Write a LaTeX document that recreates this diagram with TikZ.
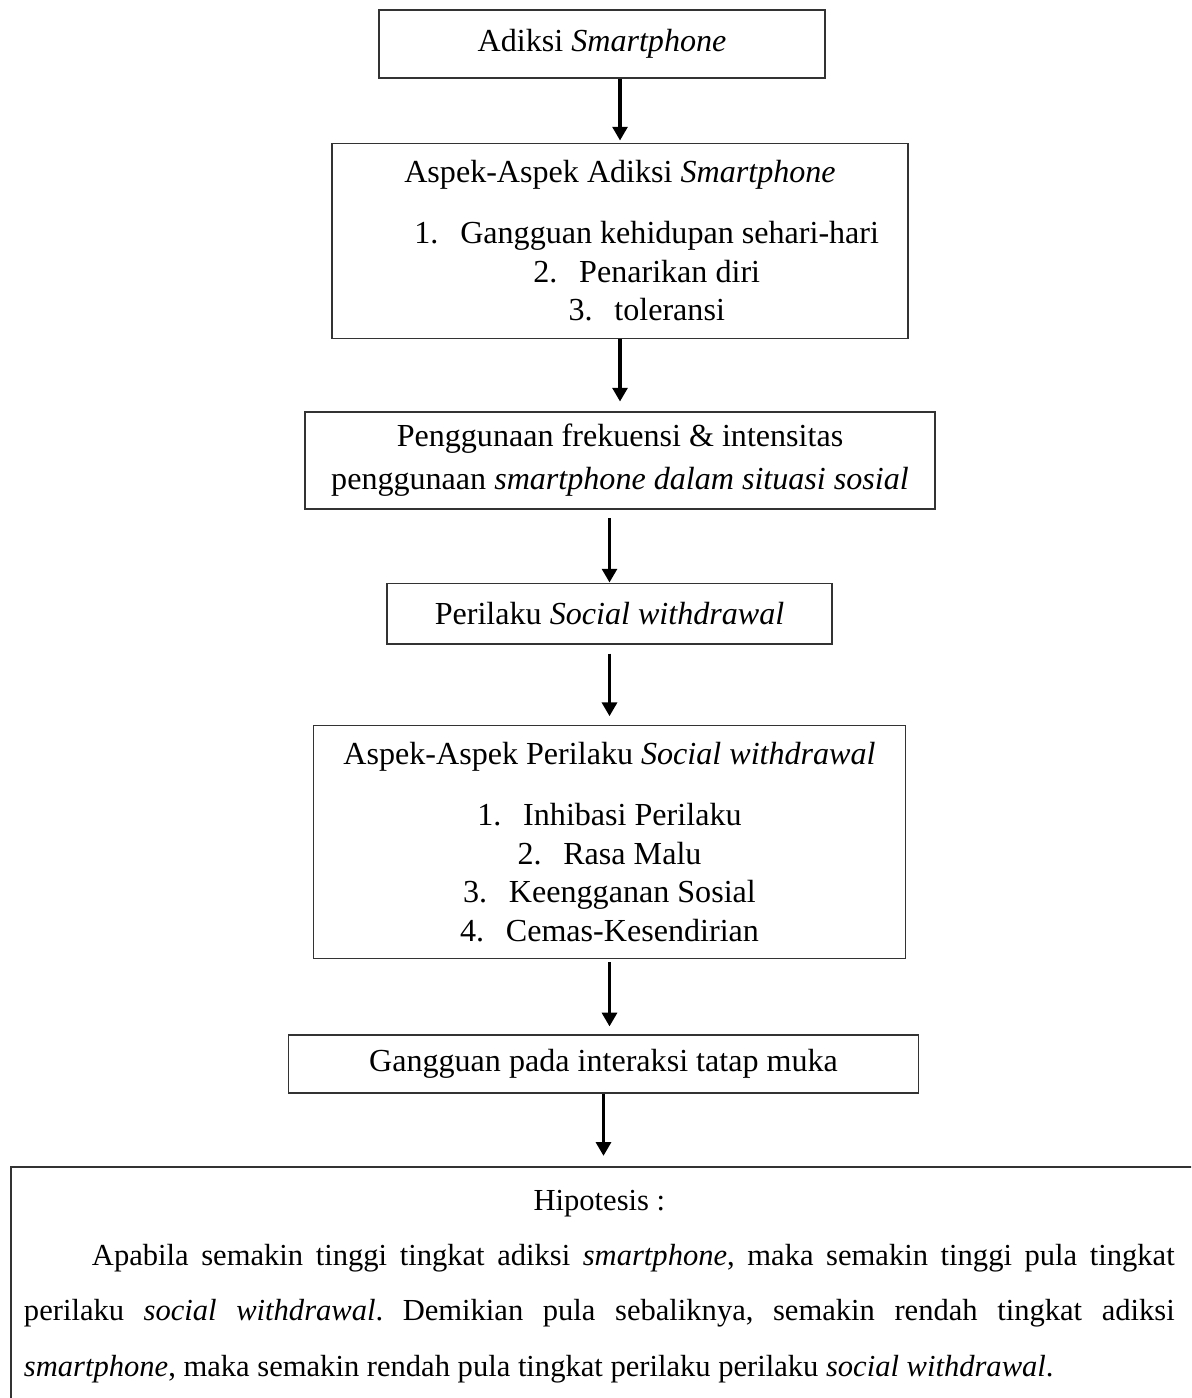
\documentclass[tikz,border=0pt]{standalone}
\usepackage{fontspec}
\setmainfont{Liberation Serif}
\usetikzlibrary{positioning,arrows.meta}

\tikzset{
  kotak/.style={draw=black!80, line width=0.6pt, align=center, inner sep=2pt,
    font=\fontsize{12.6}{15.2}\selectfont},
  panah/.style={-{Triangle[width=5.8pt,length=5.4pt]}, line width=1.5pt}
}
\newcommand{\butir}[1]{\makebox[18pt][l]{#1}}

\begin{document}
\begin{tikzpicture}
\useasboundingbox (0,0) rectangle (16.436,-19.292);
\clip (0,0) rectangle (16.436,-19.292);

\node[kotak, minimum width=6.155cm, minimum height=0.938cm] (adiksi) at (8.308,-0.607) {Adiksi \textit{Smartphone}};
\node[kotak, minimum width=7.949cm, minimum height=2.691cm, below=0.883cm of adiksi, xshift=0.248cm] (aspekadiksi)
  {Aspek-Aspek Adiksi \textit{Smartphone}\\[8.6pt]
   \hspace*{21pt}\butir{1.}Gangguan kehidupan sehari-hari\\
   \hspace*{21pt}\butir{2.}Penarikan diri\\
   \hspace*{21pt}\butir{3.}toleransi};
\node[kotak, minimum width=8.694cm, minimum height=1.34cm, below=0.99cm of aspekadiksi,
  font=\fontsize{12.6}{16.9}\selectfont] (penggunaan)
  {Penggunaan frekuensi \& intensitas\\ penggunaan \textit{smartphone dalam situasi sosial}};
\node[kotak, minimum width=6.141cm, minimum height=0.84cm, below=1.006cm of penggunaan, xshift=-0.145cm] (perilaku)
  {Perilaku \textit{Social withdrawal}};
\node[kotak, minimum width=8.17cm, minimum height=3.215cm, below=1.104cm of perilaku] (aspekperilaku)
  {Aspek-Aspek Perilaku \textit{Social withdrawal}\\[8.6pt]
   \butir{1.}Inhibasi Perilaku\\
   \butir{2.}Rasa Malu\\
   \butir{3.}Keengganan Sosial\\
   \butir{4.}Cemas-Kesendirian};
\node[kotak, minimum width=8.694cm, minimum height=0.80cm, below=1.035cm of aspekperilaku, xshift=-0.083cm] (gangguan)
  {Gangguan pada interaksi tatap muka};
\node[kotak, align=left, text width=16.1cm, inner xsep=0.179cm, inner ysep=0.33cm,
  below=0.995cm of gangguan, xshift=0.053cm] (hipotesis)
  {\parbox{15.88cm}{\fontsize{12}{21.6}\selectfont\frenchspacing
   \leftskip=0pt \rightskip=0pt \spaceskip=0pt \xspaceskip=0pt \parfillskip=0pt plus 1fil
   {\centering Hipotesis :\par}
   \hspace*{26.7pt}Apabila semakin tinggi tingkat adiksi \textit{smartphone}, maka semakin tinggi pula tingkat\linebreak
   perilaku \textit{social withdrawal}. Demikian pula sebaliknya, semakin rendah tingkat adiksi\linebreak
   \textit{smartphone}, maka semakin rendah pula tingkat perilaku perilaku \textit{social withdrawal}.\par
   \vspace*{0.4cm}}};

\draw[panah, shorten >=0.03cm] (adiksi.south -| aspekadiksi.north) -- (aspekadiksi.north);
\draw[panah, shorten >=0.13cm] (aspekadiksi.south) -- (aspekadiksi.south |- penggunaan.north);
\draw[panah, shorten <=0.12cm] (penggunaan.south -| perilaku.north) -- (perilaku.north);
\draw[panah, shorten <=0.12cm, shorten >=0.12cm] (perilaku.south) -- (aspekperilaku.north);
\draw[panah, shorten <=0.04cm, shorten >=0.11cm] (aspekperilaku.south) -- (aspekperilaku.south |- gangguan.north);
\draw[panah, shorten >=0.14cm] (gangguan.south) -- (gangguan.south |- hipotesis.north);
\end{tikzpicture}
\end{document}
